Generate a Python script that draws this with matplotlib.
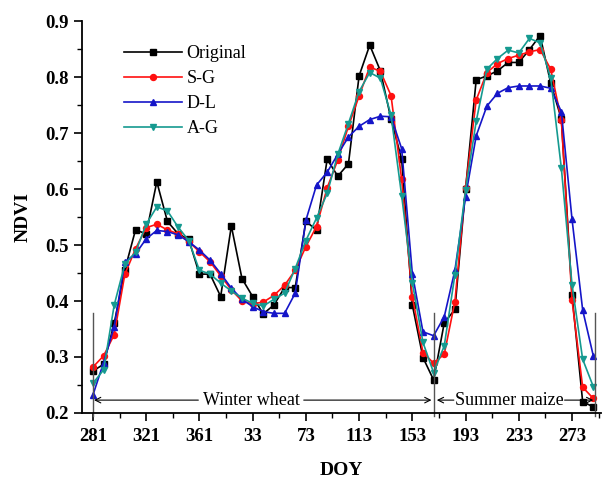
import matplotlib
matplotlib.use("Agg")
import matplotlib.pyplot as plt
from matplotlib.ticker import MultipleLocator
import numpy as np

plt.rcParams['font.family'] = ['Liberation Serif', 'DejaVu Serif']

# DOY tick labels (8-day composites, season crosses year boundary)
tick_labels = ['281', '321', '361', '33', '73', '113', '153', '193', '233', '273']

original = [0.275, 0.287, 0.360, 0.456, 0.527, 0.520, 0.613, 0.542, 0.520, 0.510,
            0.448, 0.448, 0.408, 0.534, 0.440, 0.408, 0.377, 0.393, 0.424, 0.424,
            0.542, 0.527, 0.653, 0.623, 0.645, 0.802, 0.857, 0.811, 0.725, 0.653,
            0.393, 0.299, 0.259, 0.361, 0.385, 0.600, 0.795, 0.802, 0.811, 0.826,
            0.826, 0.849, 0.874, 0.789, 0.725, 0.411, 0.220, 0.211]
sg = [0.282, 0.302, 0.340, 0.448, 0.493, 0.531, 0.537, 0.527, 0.520, 0.506,
      0.488, 0.470, 0.445, 0.420, 0.400, 0.395, 0.398, 0.410, 0.428, 0.455,
      0.497, 0.533, 0.602, 0.652, 0.712, 0.766, 0.818, 0.810, 0.767, 0.617,
      0.408, 0.308, 0.289, 0.305, 0.399, 0.602, 0.759, 0.808, 0.824, 0.833,
      0.839, 0.845, 0.849, 0.814, 0.723, 0.402, 0.246, 0.226]
dl = [0.232, 0.290, 0.354, 0.470, 0.484, 0.511, 0.526, 0.524, 0.518, 0.506,
      0.491, 0.473, 0.449, 0.423, 0.403, 0.390, 0.381, 0.378, 0.378, 0.414,
      0.544, 0.607, 0.630, 0.662, 0.693, 0.712, 0.724, 0.730, 0.729, 0.672,
      0.449, 0.345, 0.338, 0.372, 0.455, 0.586, 0.695, 0.748, 0.771, 0.781,
      0.784, 0.784, 0.784, 0.780, 0.738, 0.546, 0.384, 0.302]
ag = [0.253, 0.277, 0.393, 0.466, 0.487, 0.537, 0.568, 0.561, 0.532, 0.508,
      0.455, 0.448, 0.432, 0.418, 0.405, 0.396, 0.391, 0.403, 0.414, 0.458,
      0.508, 0.548, 0.592, 0.662, 0.717, 0.774, 0.808, 0.798, 0.732, 0.588,
      0.433, 0.326, 0.272, 0.320, 0.447, 0.598, 0.721, 0.814, 0.833, 0.848,
      0.843, 0.869, 0.861, 0.798, 0.637, 0.429, 0.296, 0.247]

x = np.arange(len(original))

fig = plt.figure(figsize=(6.05, 4.78), dpi=100)
ax = fig.add_axes([0.136, 0.136, 0.857, 0.820])

ms = 4.3
ax.plot(x, original, color='black', marker='s', ms=ms, lw=1.2, label='Original')
ax.plot(x, sg, color='#ff1010', marker='o', ms=ms, lw=1.2, label='S-G')
ax.plot(x, dl, color='#1515c8', marker='^', ms=ms, lw=1.2, label='D-L')
ax.plot(x, ag, color='#159a90', marker='v', ms=ms, lw=1.2, label='A-G')

ax.set_xlim(-1, 47.7)
ax.set_ylim(0.2, 0.9)
ax.set_xticks(np.arange(0, 50, 5))
ax.set_xticklabels(tick_labels)
ax.xaxis.set_minor_locator(MultipleLocator(2.5))
ax.yaxis.set_major_locator(MultipleLocator(0.1))
ax.yaxis.set_minor_locator(MultipleLocator(0.05))
ax.tick_params(which='major', direction='out', length=6, width=1.2, labelsize=13.5)
ax.tick_params(axis='x', which='major', pad=5)
ax.tick_params(which='minor', direction='out', length=3.5, width=1.0)
for lab in ax.get_xticklabels() + ax.get_yticklabels():
    lab.set_fontweight('bold')

for s in ['top', 'right']:
    ax.spines[s].set_visible(False)
for s in ['left', 'bottom']:
    ax.spines[s].set_linewidth(1.3)

ax.set_xlabel('DOY', fontsize=14, fontweight='bold', labelpad=12)
ax.set_ylabel('NDVI', fontsize=14, fontweight='bold', labelpad=10)

# season separators
for xv in [0, 32, 47.2]:
    ax.plot([xv, xv], [0.195, 0.378], color='#555555', lw=1.0, clip_on=False)

ay = 0.223
ap = dict(arrowstyle='->', lw=0.8, color='black', shrinkA=0, shrinkB=0)
ax.text(14.85, ay, 'Winter wheat', fontsize=13, ha='center', va='center')
ax.annotate('', xy=(0.1, ay), xytext=(9.9, ay), arrowprops=ap)
ax.annotate('', xy=(31.8, ay), xytext=(19.8, ay), arrowprops=ap)
ax.text(39.13, ay, 'Summer maize', fontsize=13, ha='center', va='center')
ax.annotate('', xy=(32.3, ay), xytext=(33.9, ay), arrowprops=ap)
ax.annotate('', xy=(47.0, ay), xytext=(44.3, ay), arrowprops=ap)

ax.legend(loc='upper left', bbox_to_anchor=(0.05, 0.98), frameon=False,
          fontsize=13, handlelength=3.2, handletextpad=0.25, labelspacing=0.45)

fig.savefig('out.png', dpi=100)
